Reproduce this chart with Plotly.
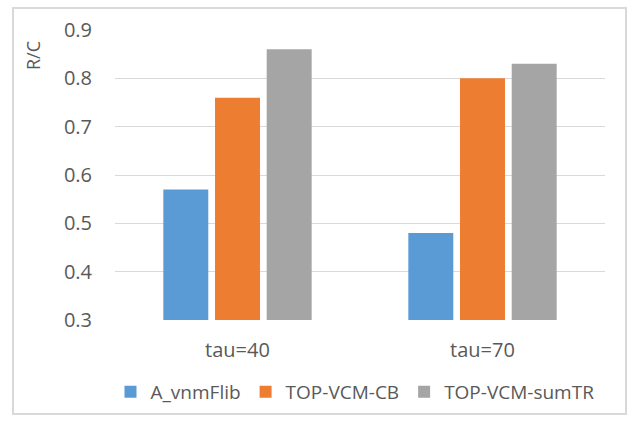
import plotly.graph_objects as go

# Category labels and series values
categories = ["tau=40", "tau=70"]
series_names = ["A_vnmFlib", "TOP-VCM-CB", "TOP-VCM-sumTR"]
a_vnmflib = [0.57, 0.48]
top_vcm_cb = [0.76, 0.80]
top_vcm_sumtr = [0.86, 0.83]
y_ticks = [0.3, 0.4, 0.5, 0.6, 0.7, 0.8, 0.9]

colors = ["#5B9BD5", "#ED7D31", "#A5A5A5"]
text_color = "#595959"
font_family = "'Open Sans', sans-serif"

fig = go.Figure()
for name, vals, col in zip(series_names, [a_vnmflib, top_vcm_cb, top_vcm_sumtr], colors):
    fig.add_trace(go.Bar(x=categories, y=vals, name=name, marker=dict(color=col, line=dict(width=0))))

W, H = 634, 421
ml, mr, mt, mb = 115, 29, 30, 101
pw, ph = W - ml - mr, H - mt - mb

def px_x(p):
    return (p - ml) / pw

def px_y(p):
    return (H - mb - p) / ph

fig.update_layout(
    width=W, height=H,
    margin=dict(l=ml, r=mr, t=mt, b=mb, autoexpand=False),
    paper_bgcolor="white", plot_bgcolor="white",
    barmode="group", bargap=0.367, bargroupgap=0.13,
    font=dict(family=font_family, size=19, color=text_color),
    showlegend=True,
    legend=dict(orientation="h", xref="container", yref="container",
                x=355 / W, xanchor="center", y=(H - 392) / H, yanchor="middle",
                font=dict(size=19, color=text_color), itemwidth=30, tracegroupgap=0),
    xaxis=dict(showgrid=False, showline=False, ticks="", ticklabelstandoff=16,
               tickfont=dict(size=20, color=text_color)),
    yaxis=dict(range=[0.3, 0.9], tickvals=y_ticks, tickformat=".1f", showgrid=True,
               gridcolor="#D9D9D9", gridwidth=1, zeroline=False, showline=False,
               ticks="", ticklabelstandoff=22, tickfont=dict(size=20, color=text_color)),
    shapes=[dict(type="rect", xref="paper", yref="paper",
                 x0=px_x(13), x1=px_x(626), y0=px_y(414), y1=px_y(8),
                 line=dict(color="#D9D9D9", width=2), fillcolor="rgba(0,0,0,0)", layer="below")],
    annotations=[dict(text="R/C", xref="paper", yref="paper", x=px_x(33), y=px_y(56),
                      textangle=-90, showarrow=False, xanchor="center", yanchor="middle",
                      font=dict(size=18, color=text_color))],
)

fig.write_html("out.html")
